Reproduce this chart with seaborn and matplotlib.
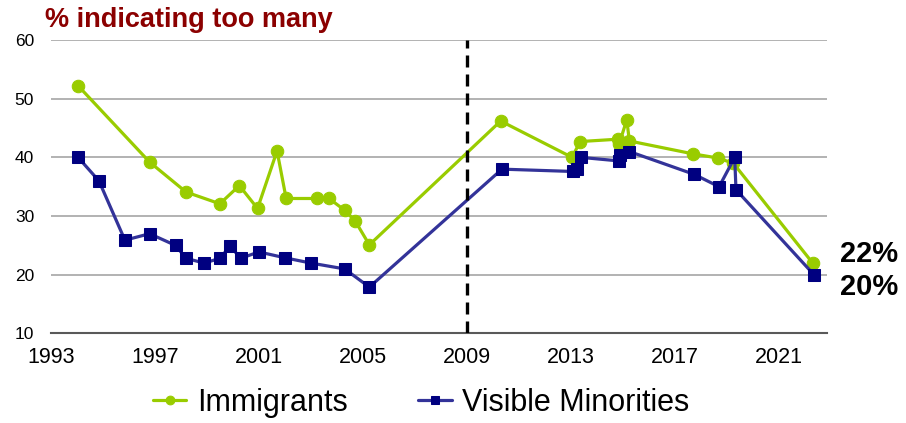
import matplotlib
matplotlib.use("Agg")
import matplotlib.pyplot as plt
import seaborn as sns
import pandas as pd

# Survey waves (fractional years) and share saying there are "too many"
imm_years = [1994.05, 1996.8, 1998.2, 1999.5, 2000.25, 2000.95, 2001.7, 2002.05,
             2003.25, 2003.7, 2004.3, 2004.7, 2005.25, 2010.3, 2013.05, 2013.35,
             2014.8, 2014.85, 2015.15, 2015.25, 2017.7, 2018.65, 2019.25, 2022.3]
imm_values = [52.2, 39.2, 34.1, 32.1, 35.2, 31.3, 41.1, 33.0,
              33.0, 33.0, 31.0, 29.2, 25.1, 46.2, 40.0, 42.7,
              43.1, 42.2, 46.4, 42.8, 40.6, 39.9, 39.0, 22.0]

vm_years = [1994.05, 1994.85, 1995.85, 1996.8, 1997.8, 1998.2, 1998.9, 1999.5,
            1999.9, 2000.3, 2001.0, 2002.0, 2003.0, 2004.3, 2005.25, 2010.35,
            2013.1, 2013.25, 2013.4, 2014.85, 2014.9, 2015.25, 2017.75, 2018.7,
            2019.3, 2019.35, 2022.35]
vm_values = [40.0, 36.0, 25.9, 27.0, 25.0, 22.8, 22.0, 22.8,
             24.9, 22.8, 23.9, 22.9, 22.0, 21.0, 17.9, 38.0,
             37.6, 38.0, 40.0, 39.4, 40.4, 41.0, 37.1, 35.0,
             40.0, 34.5, 20.0]

series_names = ["Immigrants", "Visible Minorities"]
x_ticks = [1993, 1997, 2001, 2005, 2009, 2013, 2017, 2021]
y_ticks = [10, 20, 30, 40, 50, 60]
title_text = "% indicating too many"
marker_year = 2009

sns.set_theme(style="white")
plt.rcParams["font.family"] = ["Liberation Sans", "DejaVu Sans"]
plt.rcParams["text.color"] = "black"
plt.rcParams["xtick.color"] = "black"
plt.rcParams["ytick.color"] = "black"

imm_df = pd.DataFrame({"year": imm_years, "pct": imm_values})
vm_df = pd.DataFrame({"year": vm_years, "pct": vm_values})

GREEN = "#99cc00"
BLUE_LINE = "#333399"
BLUE_MARK = "#000080"

fig = plt.figure(figsize=(9.06, 4.23), dpi=100)
ax = fig.add_axes([0.0561, 0.2116, 0.8567, 0.6938])

sns.lineplot(data=imm_df, x="year", y="pct", ax=ax, sort=False, estimator=None,
             color=GREEN, linewidth=2.3, marker="o", markersize=9,
             markeredgecolor=GREEN, markerfacecolor=GREEN, label=series_names[0],
             zorder=3)
sns.lineplot(data=vm_df, x="year", y="pct", ax=ax, sort=False, estimator=None,
             color=BLUE_LINE, linewidth=2.3, marker="s", markersize=8,
             markeredgecolor=BLUE_MARK, markerfacecolor=BLUE_MARK,
             label=series_names[1], zorder=4)

# vertical reference line
ax.axvline(marker_year, color="black", linewidth=2.4, dashes=(3.6, 2.1), zorder=5)

ax.set_xlim(1993, 2022.85)
ax.set_ylim(10, 60)
ax.set_xticks(x_ticks)
ax.set_yticks(y_ticks)
ax.set_xticklabels([str(t) for t in x_ticks], fontsize=15.5)
ax.set_yticklabels([str(t) for t in y_ticks], fontsize=12.5)
ax.set_xlabel("")
ax.set_ylabel("")

for y in y_ticks[1:]:
    ax.axhline(y, color="#a6a6a6", linewidth=1.2, zorder=1)

for side in ["left", "right", "top"]:
    ax.spines[side].set_visible(False)
ax.spines["bottom"].set_color("#595959")
ax.spines["bottom"].set_linewidth(1.5)
ax.tick_params(axis="x", direction="out", length=5, width=1.2, color="#595959",
               pad=5, labelcolor="black")
ax.tick_params(axis="y", length=0, pad=12, labelcolor="black")

# end-of-series value labels
ax.annotate(f"{imm_values[-1]:.0f}%", xy=(imm_years[-1], imm_values[-1]),
            xytext=(19.5, 6.7), textcoords="offset points", ha="left",
            va="center", fontsize=21, fontweight="bold", color="black",
            annotation_clip=False)
ax.annotate(f"{vm_values[-1]:.0f}%", xy=(vm_years[-1], vm_values[-1]),
            xytext=(18.5, -8.6), textcoords="offset points", ha="left",
            va="center", fontsize=21, fontweight="bold", color="black",
            annotation_clip=False)

fig.text(0.0497, 1 - 27 / 423, title_text, fontsize=19.5, fontweight="bold",
         color="#8b0000", ha="left", va="baseline")

handles, labels = ax.get_legend_handles_labels()
ax.get_legend().remove()
fig.legend(handles, labels, loc="center", bbox_to_anchor=(0.465, 1 - 403 / 423),
           ncol=2, frameon=False, fontsize=22, handlelength=1.1,
           handletextpad=0.35, columnspacing=2.3, markerscale=0.7,
           labelcolor="black")

fig.savefig("out.png", dpi=100)
